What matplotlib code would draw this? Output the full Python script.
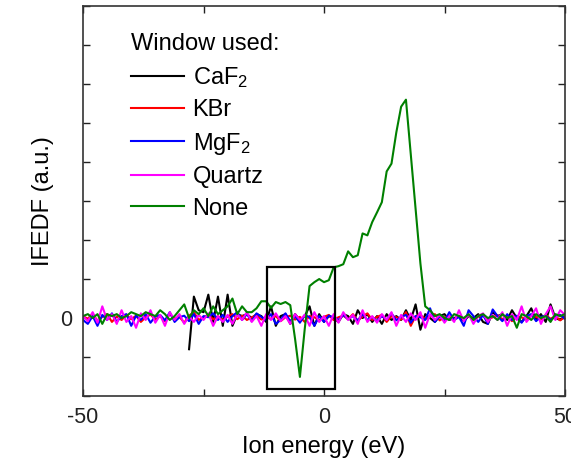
import numpy as np
import matplotlib
matplotlib.use("Agg")
import matplotlib.pyplot as plt
from matplotlib.patches import Rectangle

plt.rcParams['font.family'] = ['Liberation Sans', 'DejaVu Sans']
plt.rcParams['mathtext.default'] = 'regular'

energy = np.arange(-50, 51, 1)
energy_caf2 = np.arange(-28, 51, 1)

caf2 = [-0.8, 0.55, 0.2, 0.15, 0.6, -0.1, 0.55, -0.2, 0.6, -0.2,
        0.1, 0.05, 0.1, 0.0, 0.1, 0.05, -0.1, 0.3, -0.2, 0.05,
        0.1, -0.15, 0.1, -0.05, 0.05, 0.3, -0.2, 0.1, -0.1, 0.05,
        0.0, -0.1, 0.1, 0.05, -0.15, 0.2, 0.0, 0.1, -0.1, 0.05,
        -0.15, 0.1, -0.05, 0.05, -0.05, 0.2, -0.05, 0.35, -0.3, 0.1,
        0.0, -0.1, 0.05, 0.1, -0.05, 0.0, 0.05, -0.08, 0.05, 0.0,
        0.1, -0.1, -0.15, 0.15, 0.05, 0.1, -0.05, 0.2, 0.0, -0.1,
        0.05, 0.25, -0.05, 0.1, -0.1, 0.35, 0.0, -0.05, 0.05]

kbr = [0.05, -0.02, 0.12, -0.08, 0.03, 0.1, -0.1, 0.04, -0.05, 0.08,
       -0.03, 0.06, -0.1, 0.02, 0.09, -0.04, 0.05, -0.08, 0.1, -0.02,
       0.03, -0.12, 0.06, 0.15, -0.05, 0.02, 0.08, -0.03, 0.05, -0.06,
       0.04, 0.1, -0.03, 0.06, -0.05, 0.02, 0.07, -0.04, 0.03, -0.02,
       0.05, -0.08, 0.02, 0.06, -0.04, 0.03, -0.1, 0.05, 0.02, -0.06,
       0.03, 0.08, -0.05, 0.02, 0.06, -0.03, 0.1, -0.07, 0.04, 0.12,
       -0.05, 0.03, 0.08, -0.1, 0.05, 0.02, -0.04, 0.15, -0.2, 0.05,
       0.08, -0.03, 0.04, 0.1, -0.06, 0.02, 0.05, -0.03, 0.06, -0.02,
       0.08, -0.05, 0.03, 0.06, -0.04, 0.02, 0.07, -0.03, 0.05, -0.08,
       0.04, 0.02, -0.05, 0.06, 0.03, -0.04, 0.08, -0.02, 0.05, -0.06, 0.03]

mgf2 = [-0.05, -0.15, 0.05, -0.2, 0.08, -0.05, 0.12, -0.1, 0.05, 0.1,
        -0.2, 0.06, -0.05, 0.1, -0.12, 0.04, 0.08, -0.06, 0.15, -0.1,
        0.02, 0.06, -0.08, 0.1, -0.15, 0.05, 0.02, 0.12, -0.05, 0.08,
        -0.1, 0.05, 0.15, -0.05, 0.1, -0.08, 0.12, 0.03, -0.05, 0.1,
        -0.15, -0.05, 0.12, -0.08, 0.05, -0.12, 0.08, 0.02, -0.2, 0.05,
        -0.1, 0.06, 0.02, -0.05, 0.08, -0.03, 0.05, -0.06, 0.1, -0.05,
        0.03, -0.08, 0.05, -0.04, 0.12, -0.06, 0.03, 0.08, -0.12, 0.05,
        0.02, -0.05, 0.25, -0.1, 0.05, -0.08, 0.15, -0.05, 0.03, -0.2,
        0.2, 0.05, -0.1, 0.08, -0.15, 0.22, 0.05, -0.08, 0.1, -0.05,
        0.06, -0.12, 0.05, 0.1, -0.08, 0.03, 0.06, -0.05, 0.04, 0.08, -0.02]

quartz = [0.05, -0.08, 0.15, -0.12, 0.3, -0.05, 0.1, -0.15, 0.2, -0.1,
          0.05, -0.25, 0.12, -0.05, 0.2, -0.12, 0.08, -0.2, 0.15, -0.05,
          0.1, -0.15, 0.05, -0.1, 0.08, -0.05, 0.12, -0.2, 0.05, -0.1,
          0.08, -0.15, 0.1, -0.05, 0.15, -0.1, 0.05, -0.2, 0.1, -0.05,
          0.12, -0.08, 0.05, -0.15, 0.1, -0.05, 0.08, -0.2, 0.15, -0.1,
          0.05, -0.2, 0.1, -0.12, 0.15, -0.05, 0.08, -0.15, 0.2, -0.1,
          0.05, -0.12, 0.1, -0.05, 0.15, -0.2, 0.08, -0.1, 0.12, -0.05,
          0.15, -0.25, 0.1, -0.05, 0.08, -0.12, 0.05, -0.1, 0.2, -0.08,
          0.1, -0.15, 0.05, 0.12, -0.1, 0.08, -0.05, 0.15, -0.2, 0.1,
          -0.05, 0.3, -0.1, 0.05, 0.25, -0.15, 0.1, 0.3, -0.05, 0.2, 0.08]

none = [0.05, 0.1, 0.0, 0.1, -0.15, 0.1, 0.05, 0.1, 0.0, 0.05,
        0.15, 0.1, 0.05, 0.15, 0.1, 0.05, 0.2, 0.1, -0.05, 0.05,
        0.2, 0.35, 0.0, 0.2, 0.1, 0.25, 0.05, 0.3, 0.1, 0.2,
        0.3, 0.5, 0.1, 0.3, 0.15,
        0.15, 0.25, 0.43, 0.43, 0.26, 0.41, 0.36, 0.41, 0.33, -0.54,
        -1.51, -0.28, 0.82, 0.92, 1.0, 0.92, 0.97, 1.3, 1.33, 1.38,
        1.71, 1.56, 1.61, 2.17, 2.12, 2.46, 2.71, 2.97, 3.76, 3.96,
        4.76, 5.42, 5.6, 4.2, 2.8, 1.4, 0.3, 0.2, 0.05, 0.1,
        0.0, -0.05, 0.1, 0.05, 0.0, 0.1, -0.05, 0.05, 0.1, 0.0,
        0.05, -0.05, 0.1, 0.0, 0.05, -0.25, 0.1, 0.05, -0.05, 0.1,
        0.0, 0.05, -0.1, 0.1, 0.05, 0.1]

box_x = [-11.8, 2.3]
box_y = [-1.82, 1.3]

fig = plt.figure(figsize=(5.71, 4.68), dpi=100)
ax = fig.add_axes([0.1454, 0.1538, 0.9895 - 0.1454, 0.987 - 0.1538])

lw = 1.5
ax.plot(energy_caf2, caf2, color='black', lw=lw, label='CaF$_2$')
ax.plot(energy, kbr, color='#ff0000', lw=lw, label='KBr')
ax.plot(energy, mgf2, color='#0000ff', lw=lw, label='MgF$_2$')
ax.plot(energy, quartz, color='#ff00ff', lw=lw, label='Quartz')
ax.plot(energy, none, color='#008000', lw=lw, label='None')

ax.add_patch(Rectangle((box_x[0], box_y[0]), box_x[1] - box_x[0], box_y[1] - box_y[0],
                       fill=False, edgecolor='black', lw=1.6, zorder=5))

ax.set_xlim(-50, 50)
ax.set_ylim(-2, 8)
ax.set_xticks([-50, -25, 0, 25, 50])
ax.set_xticklabels(['-50', '', '0', '', '50'])
ax.set_yticks(np.arange(-2, 9, 1))
ax.set_yticklabels(['' if v != 0 else '0' for v in np.arange(-2, 9, 1)])
ax.tick_params(direction='in', length=5, width=1, top=True, right=True,
               labelsize=15.5, colors='#222222', pad=8)
for s in ax.spines.values():
    s.set_linewidth(1.2)
    s.set_color('#333333')

ax.set_xlabel('Ion energy (eV)', fontsize=17, labelpad=6)
ax.set_ylabel('IFEDF (a.u.)', fontsize=17, labelpad=4)

leg = ax.legend(title='Window used:', loc='upper left', bbox_to_anchor=(0.10, 0.93),
                frameon=False, fontsize=17, title_fontsize=17, handlelength=2.25,
                handletextpad=0.35, labelspacing=0.4, alignment='left',
                borderaxespad=0, borderpad=0)

fig.savefig('out.png', dpi=100)
